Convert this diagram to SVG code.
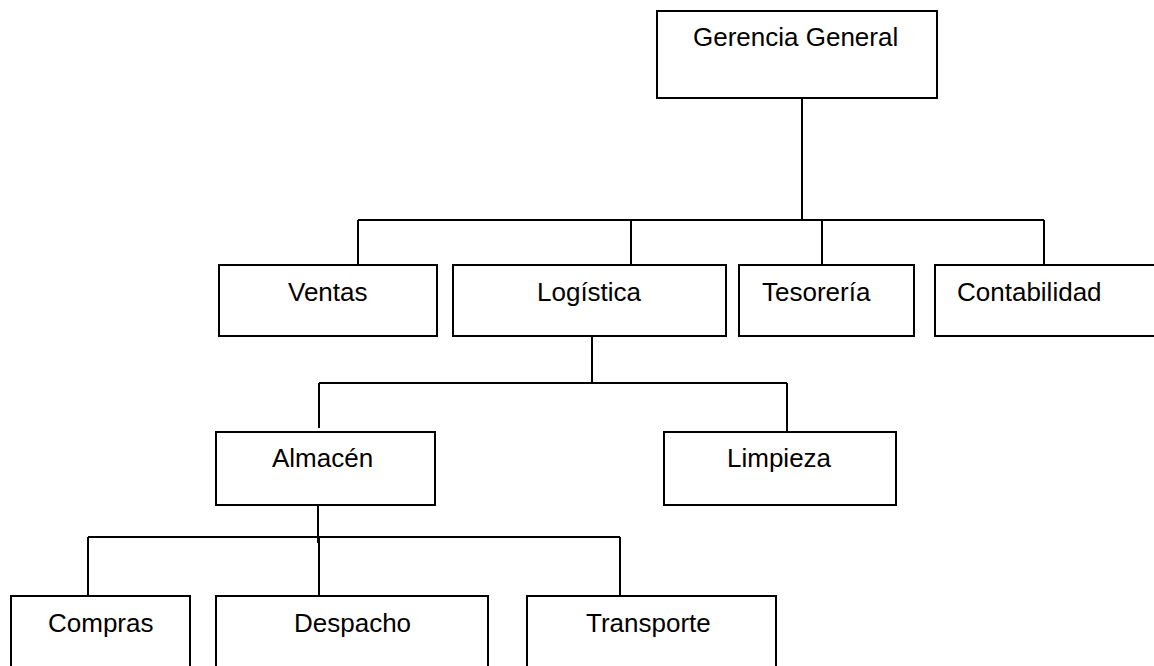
<svg xmlns="http://www.w3.org/2000/svg" width="1154" height="666" viewBox="0 0 1154 666">
<style>
.box{fill:#fff;stroke:#000;stroke-width:2}
.lbl{font-family:"Liberation Sans",Arial,sans-serif;font-size:26px;fill:#000}
.con{fill:none;stroke:#000;stroke-width:2}
</style>
<rect width="1154" height="666" fill="#fff"/>
<g id="connectors">
<path class="con" d="M802 98V220M358 220H1044M358 220V265M631 220V265M822 220V265M1044 220V265"/>
<path class="con" d="M592 336V383M319 383H787M319 383V428M787 383V432"/>
<path class="con" d="M318 505V543M88 537H620M88 537V596M319 537V596M620 537V596"/>
</g>
<g id="gerencia"><rect class="box" x="657" y="11" width="280" height="87"/><text class="lbl" x="693" y="46">Gerencia General</text></g>
<g id="ventas"><rect class="box" x="219" y="265" width="218" height="71"/><text class="lbl" x="288" y="301">Ventas</text></g>
<g id="logistica"><rect class="box" x="453" y="265" width="273" height="71"/><text class="lbl" x="537" y="301">Logística</text></g>
<g id="tesoreria"><rect class="box" x="739" y="265" width="175" height="71"/><text class="lbl" x="762" y="301">Tesorería</text></g>
<g id="contabilidad"><rect class="box" x="935" y="265" width="230" height="71"/><text class="lbl" x="957" y="301">Contabilidad</text></g>
<g id="almacen"><rect class="box" x="216" y="432" width="219" height="73"/><text class="lbl" x="272" y="467">Almacén</text></g>
<g id="limpieza"><rect class="box" x="664" y="432" width="232" height="73"/><text class="lbl" x="727" y="467">Limpieza</text></g>
<g id="compras"><rect class="box" x="11" y="596" width="179" height="80"/><text class="lbl" x="48" y="632">Compras</text></g>
<g id="despacho"><rect class="box" x="216" y="596" width="272" height="80"/><text class="lbl" x="294" y="632">Despacho</text></g>
<g id="transporte"><rect class="box" x="527" y="596" width="249" height="80"/><text class="lbl" x="586" y="632">Transporte</text></g>
</svg>
